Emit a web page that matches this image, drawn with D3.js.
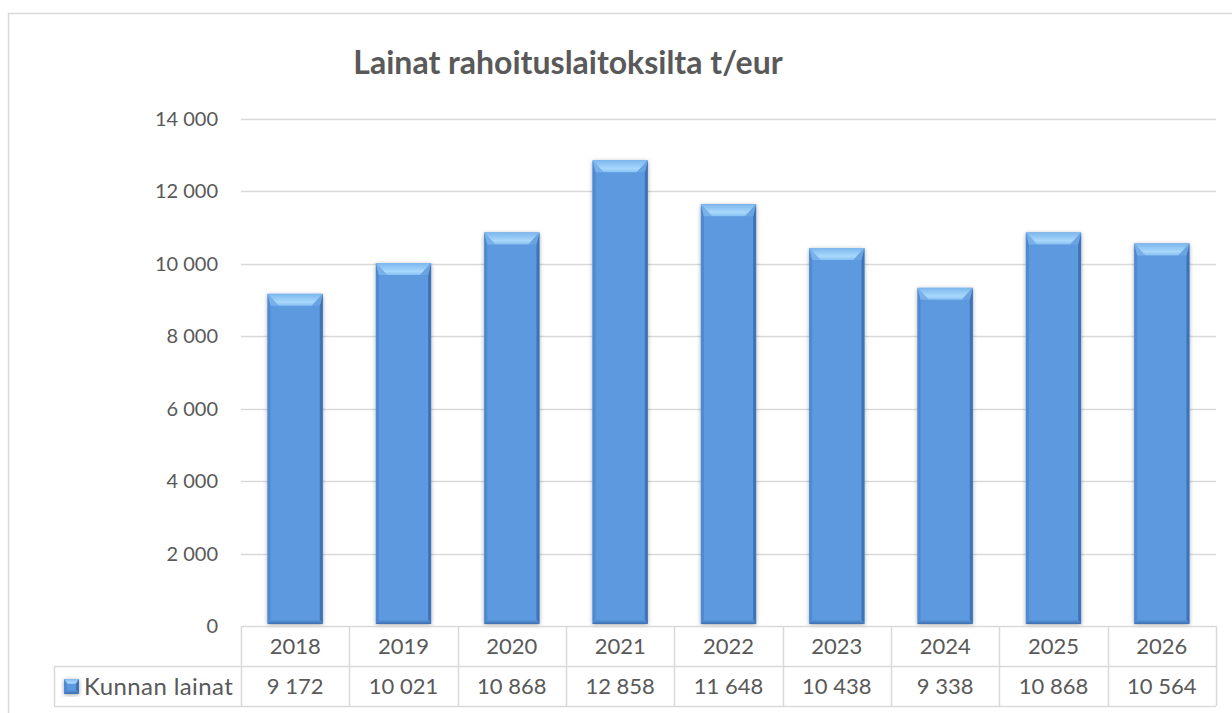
<!DOCTYPE html>
<html>
<head>
<meta charset="utf-8">
<script src="https://cdn.jsdelivr.net/npm/d3@7"></script>
<style>
  body { margin: 0; background: #fff; }
  text { font-family: Lato, "Open Sans", sans-serif; fill: #595959; }
</style>
</head>
<body>
<svg id="chart" width="1232" height="713"></svg>
<script>
let years = ['2018', '2019', '2020', '2021', '2022', '2023', '2024', '2025', '2026'];
let values = [9172, 10021, 10868, 12858, 11648, 10438, 9338, 10868, 10564];
let yTicks = [0, 2000, 4000, 6000, 8000, 10000, 12000, 14000];
let seriesName = 'Kunnan lainat';
let title = 'Lainat rahoituslaitoksilta t/eur';

let fmt = v => d3.format(',')(v).replace(/,/g, ' ');

let svg = d3.select('#chart');
let gridColor = '#d9d9d9';

// gradients for the bevelled bars
let defs = svg.append('defs');
let topGrad = defs.append('linearGradient').attr('id', 'topGrad')
    .attr('x1', 0).attr('y1', 0).attr('x2', 0).attr('y2', 1);
topGrad.append('stop').attr('offset', '0%').attr('stop-color', '#7db7ee');
topGrad.append('stop').attr('offset', '70%').attr('stop-color', '#a8d8fb');
topGrad.append('stop').attr('offset', '100%').attr('stop-color', '#86bff1');
let botGrad = defs.append('linearGradient').attr('id', 'botGrad')
    .attr('x1', 0).attr('y1', 0).attr('x2', 0).attr('y2', 1);
botGrad.append('stop').attr('offset', '0%').attr('stop-color', '#5a97dc');
botGrad.append('stop').attr('offset', '100%').attr('stop-color', '#3c6fb0');
let shadow = defs.append('filter').attr('id', 'shadow')
    .attr('x', '-20%').attr('y', '-20%').attr('width', '140%').attr('height', '140%');
shadow.append('feDropShadow').attr('dx', 0).attr('dy', 1).attr('stdDeviation', 2)
    .attr('flood-color', '#000').attr('flood-opacity', 0.35);

// outer chart border
svg.append('rect')
    .attr('x', 8.5).attr('y', 13.5).attr('width', 1240).attr('height', 720)
    .attr('fill', 'none').attr('stroke', gridColor).attr('stroke-width', 1.5);

svg.append('text')
    .attr('x', 568).attr('y', 74)
    .attr('text-anchor', 'middle')
    .style('font-size', '32px').style('font-weight', 'bold')
    .text(title);

let plotLeft = 241, plotRight = 1216, plotTop = 119, plotBottom = 626;
let rowH = 40;

let x = d3.scaleBand().domain(years).range([plotLeft, plotRight])
    .paddingInner(0.49).paddingOuter(0.245);
let cols = d3.scaleBand().domain(years).range([plotLeft, plotRight]);
let y = d3.scaleLinear().domain([0, 14000]).range([plotBottom, plotTop]);

// gridlines
svg.append('g').selectAll('line')
    .data(yTicks.filter(t => t > 0))
    .join('line')
    .attr('x1', plotLeft).attr('x2', plotRight)
    .attr('y1', d => Math.round(y(d)) + 0.5).attr('y2', d => Math.round(y(d)) + 0.5)
    .attr('stroke', gridColor).attr('stroke-width', 1.5);

// y axis labels
svg.append('g').selectAll('text')
    .data(yTicks)
    .join('text')
    .attr('x', 218).attr('y', d => y(d))
    .attr('dy', '0.35em')
    .attr('text-anchor', 'end')
    .style('font-size', '20px')
    .text(d => fmt(d));

// bars with bevel
function bevelBar(g, x0, y0, w, h) {
    let b = Math.min(12, h / 3), s = 3, bb = 4;
    g.append('rect').attr('x', x0).attr('y', y0).attr('width', w).attr('height', h)
        .attr('fill', '#5b99de').attr('filter', 'url(#shadow)');
    // left / right edges
    g.append('polygon').attr('points', [[x0, y0], [x0 + s, y0 + b], [x0 + s, y0 + h - bb], [x0, y0 + h]].join(' '))
        .attr('fill', '#4f89cf');
    g.append('polygon').attr('points', [[x0 + w, y0], [x0 + w - s, y0 + b], [x0 + w - s, y0 + h - bb], [x0 + w, y0 + h]].join(' '))
        .attr('fill', '#3f73b6');
    // bottom edge
    g.append('polygon').attr('points', [[x0, y0 + h], [x0 + s, y0 + h - bb], [x0 + w - s, y0 + h - bb], [x0 + w, y0 + h]].join(' '))
        .attr('fill', 'url(#botGrad)');
    // top bevel
    let inset = Math.min(11, w / 4);
    g.append('polygon').attr('points', [[x0, y0], [x0 + w, y0], [x0 + w - inset, y0 + b], [x0 + inset, y0 + b]].join(' '))
        .attr('fill', 'url(#topGrad)');
    g.append('polygon').attr('points', [[x0, y0], [x0 + inset, y0 + b], [x0 + s, y0 + b]].join(' '))
        .attr('fill', '#78b0ea');
    g.append('polygon').attr('points', [[x0 + w, y0], [x0 + w - inset, y0 + b], [x0 + w - s, y0 + b]].join(' '))
        .attr('fill', '#6aa3e2');
}

let barG = svg.append('g');
years.forEach((yr, i) => {
    let g = barG.append('g');
    bevelBar(g, x(yr), y(values[i]), x.bandwidth(), y(0) - y(values[i]) - 2);
});

// data table
let table = svg.append('g');
let legendLeft = 54;
// horizontal lines
table.append('line').attr('x1', plotLeft).attr('x2', plotRight).attr('y1', plotBottom + 0.5).attr('y2', plotBottom + 0.5)
    .attr('stroke', gridColor).attr('stroke-width', 1.5);
table.append('line').attr('x1', legendLeft).attr('x2', plotRight).attr('y1', plotBottom + rowH + 0.5).attr('y2', plotBottom + rowH + 0.5)
    .attr('stroke', gridColor).attr('stroke-width', 1.5);
table.append('line').attr('x1', legendLeft).attr('x2', plotRight).attr('y1', plotBottom + 2 * rowH + 0.5).attr('y2', plotBottom + 2 * rowH + 0.5)
    .attr('stroke', gridColor).attr('stroke-width', 1.5);
// vertical lines
let vx = years.map(yr => cols(yr)).concat([plotRight]);
table.selectAll('line.v')
    .data(vx)
    .join('line').attr('class', 'v')
    .attr('x1', d => Math.round(d) + 0.5).attr('x2', d => Math.round(d) + 0.5)
    .attr('y1', plotBottom).attr('y2', plotBottom + 2 * rowH)
    .attr('stroke', gridColor).attr('stroke-width', 1.5);
table.append('line')
    .attr('x1', legendLeft + 0.5).attr('x2', legendLeft + 0.5)
    .attr('y1', plotBottom + rowH).attr('y2', plotBottom + 2 * rowH)
    .attr('stroke', gridColor).attr('stroke-width', 1.5);

table.selectAll('text.cat')
    .data(years)
    .join('text').attr('class', 'cat')
    .attr('x', d => cols(d) + cols.bandwidth() / 2)
    .attr('y', plotBottom + rowH / 2).attr('dy', '0.36em')
    .attr('text-anchor', 'middle')
    .style('font-size', '22px')
    .text(d => d);

table.selectAll('text.val')
    .data(values)
    .join('text').attr('class', 'val')
    .attr('x', (d, i) => cols(years[i]) + cols.bandwidth() / 2)
    .attr('y', plotBottom + rowH * 1.5).attr('dy', '0.36em')
    .attr('text-anchor', 'middle')
    .style('font-size', '22px')
    .text(d => fmt(d));

// legend key
let key = table.append('g');
bevelBar(key, 64, plotBottom + rowH + 13, 15, 15);
table.append('text')
    .attr('x', 84).attr('y', plotBottom + rowH * 1.5).attr('dy', '0.36em')
    .style('font-size', '24px').style('letter-spacing', '0.4px')
    .text(seriesName);
</script>
</body>
</html>
